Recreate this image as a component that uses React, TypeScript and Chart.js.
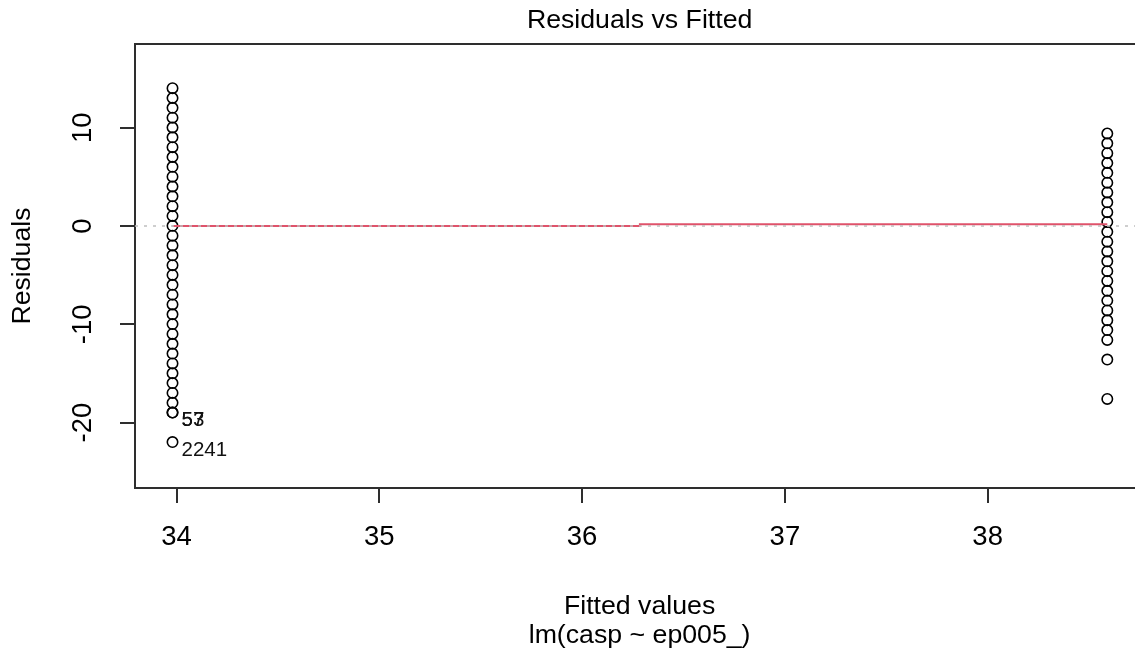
import { useEffect, useRef } from "react";
import { Chart, registerables } from "chart.js";

Chart.register(...registerables);

const FONT = '"Liberation Sans", Arial, Helvetica, sans-serif';

const plotTitle = "Residuals vs Fitted";
const xTitleLines = ["Fitted values", "lm(casp ~ ep005_)"];
const yTitle = "Residuals";

const xTicks = [34, 35, 36, 37, 38];
const yTicks = [-20, -10, 0, 10];

const fittedLow = 33.98;
const fittedHigh = 38.59;

const residualsLow = [
  14.02, 13.02, 12.02, 11.02, 10.02, 9.02, 8.02, 7.02, 6.02, 5.02, 4.02, 3.02,
  2.02, 1.02, 0.02, -0.98, -1.98, -2.98, -3.98, -4.98, -5.98, -6.98, -7.98,
  -8.98, -9.98, -10.98, -11.98, -12.98, -13.98, -14.98, -15.98, -16.98, -17.98,
  -18.98, -18.98, -21.98,
];

const residualsHigh = [
  9.41, 8.41, 7.41, 6.41, 5.41, 4.41, 3.41, 2.41, 1.41, 0.41, -0.59, -1.59,
  -2.59, -3.59, -4.59, -5.59, -6.59, -7.59, -8.59, -9.59, -10.59, -11.59,
  -13.59, -17.59,
];

const smoothX = [33.98, 38.59];
const smoothY = [0.0, 0.17];

const refLineX = [33.795, 38.772];
const refLineY = [0, 0];

const idLabels = ["57", "53", "2241"];
const idX = [33.98, 33.98, 33.98];
const idY = [-18.98, -18.98, -21.98];

const AXIS_COLOR = "#2e2e2e";
const CANVAS_W = 1151;
const CANVAS_H = 659;

const overlayPlugin = {
  id: "rOverlay",
  afterDatasetsDraw(chart: any) {
    const { ctx, chartArea, scales } = chart;
    ctx.save();
    ctx.strokeStyle = AXIS_COLOR;
    ctx.lineWidth = 2;
    ctx.beginPath();
    ctx.moveTo(chartArea.left - 1, chartArea.top);
    ctx.lineTo(chartArea.right, chartArea.top);
    ctx.stroke();
    ctx.fillStyle = "#111";
    ctx.font = `20.5px ${FONT}`;
    ctx.textAlign = "left";
    ctx.textBaseline = "middle";
    for (let i = 0; i < idLabels.length; i++) {
      const px = scales.x.getPixelForValue(idX[i]) + 9;
      const py = scales.y.getPixelForValue(idY[i]) + 8;
      ctx.fillText(idLabels[i], px, py);
    }
    ctx.restore();
  },
};

export default function App() {
  const ref = useRef<HTMLCanvasElement>(null);

  useEffect(() => {
    const canvas = ref.current;
    if (!canvas) return;
    const tickFont = { family: FONT, size: 27.5, weight: "normal" as const };
    const pointStyleOpts = {
      showLine: false,
      pointStyle: "circle",
      pointRadius: 5.2,
      pointBorderWidth: 1.6,
      pointBorderColor: "#000",
      pointBackgroundColor: "rgba(0,0,0,0)",
    };
    const chart = new Chart(canvas, {
      type: "scatter",
      data: {
        datasets: [
          {
            label: "h0",
            data: refLineX.map((x, i) => ({ x, y: refLineY[i] })),
            showLine: true,
            borderColor: "#bebebe",
            borderWidth: 1.5,
            borderDash: [3, 6],
            pointRadius: 0,
          },
          {
            label: "smooth",
            data: smoothX.map((x, i) => ({ x, y: smoothY[i] })),
            showLine: true,
            stepped: "middle",
            borderColor: "#DF536B",
            borderWidth: 2,
            pointRadius: 0,
          },
          {
            label: "low",
            data: residualsLow.map((r) => ({ x: fittedLow, y: r })),
            ...pointStyleOpts,
          },
          {
            label: "high",
            data: residualsHigh.map((r) => ({ x: fittedHigh, y: r })),
            ...pointStyleOpts,
          },
        ],
      },
      options: {
        animation: false,
        responsive: false,
        events: [],
        layout: { padding: 0 },
        plugins: {
          legend: { display: false },
          tooltip: { enabled: false },
          title: {
            display: true,
            text: plotTitle,
            fullSize: false,
            color: "#000",
            font: { family: FONT, size: 26.7, weight: "normal", lineHeight: 1.2 },
            padding: { top: 4.5, bottom: 7.5 },
          },
        },
        scales: {
          x: {
            type: "linear",
            min: 33.795,
            max: 38.772,
            afterBuildTicks: (s: any) => {
              s.ticks = xTicks.map((v) => ({ value: v }));
            },
            afterFit: (s: any) => {
              s.height = 171;
            },
            grid: {
              drawOnChartArea: false,
              drawTicks: true,
              tickLength: 15,
              tickWidth: 2,
              tickColor: AXIS_COLOR,
              lineWidth: 2,
              color: AXIS_COLOR,
            },
            border: { display: true, color: AXIS_COLOR, width: 2 },
            ticks: {
              font: tickFont,
              color: "#000",
              padding: 18,
              autoSkip: false,
              minRotation: 0,
              maxRotation: 0,
              includeBounds: false,
              callback: (v: any) => String(v),
            },
            title: {
              display: true,
              text: xTitleLines,
              color: "#000",
              font: { family: FONT, size: 26.7, weight: "normal", lineHeight: 29 / 26.7 },
              padding: { top: 0, bottom: 9 },
            },
          },
          y: {
            type: "linear",
            min: -26.65,
            max: 18.51,
            afterBuildTicks: (s: any) => {
              s.ticks = yTicks.map((v) => ({ value: v }));
            },
            afterFit: (s: any) => {
              s.width = 135;
            },
            grid: {
              drawOnChartArea: false,
              drawTicks: true,
              tickLength: 15,
              tickWidth: 2,
              tickColor: AXIS_COLOR,
              lineWidth: 2,
              color: AXIS_COLOR,
            },
            border: { display: true, color: AXIS_COLOR, width: 2 },
            ticks: {
              font: tickFont,
              color: "#000",
              padding: 17,
              autoSkip: false,
              minRotation: 90,
              maxRotation: 90,
              crossAlign: "center",
              includeBounds: false,
              callback: (v: any) => String(v),
            },
            title: {
              display: true,
              text: yTitle,
              color: "#000",
              font: { family: FONT, size: 26.7, weight: "normal", lineHeight: 1.2 },
              padding: { top: 6.5, bottom: 0 },
            },
          },
        },
      },
      plugins: [overlayPlugin],
    } as any);
    return () => chart.destroy();
  }, []);

  return (
    <div
      style={{
        position: "absolute",
        left: 0,
        top: 0,
        width: 1135,
        height: 659,
        overflow: "hidden",
      }}
    >
      <canvas
        ref={ref}
        width={CANVAS_W}
        height={CANVAS_H}
        style={{ display: "block", width: CANVAS_W, height: CANVAS_H }}
      />
    </div>
  );
}
